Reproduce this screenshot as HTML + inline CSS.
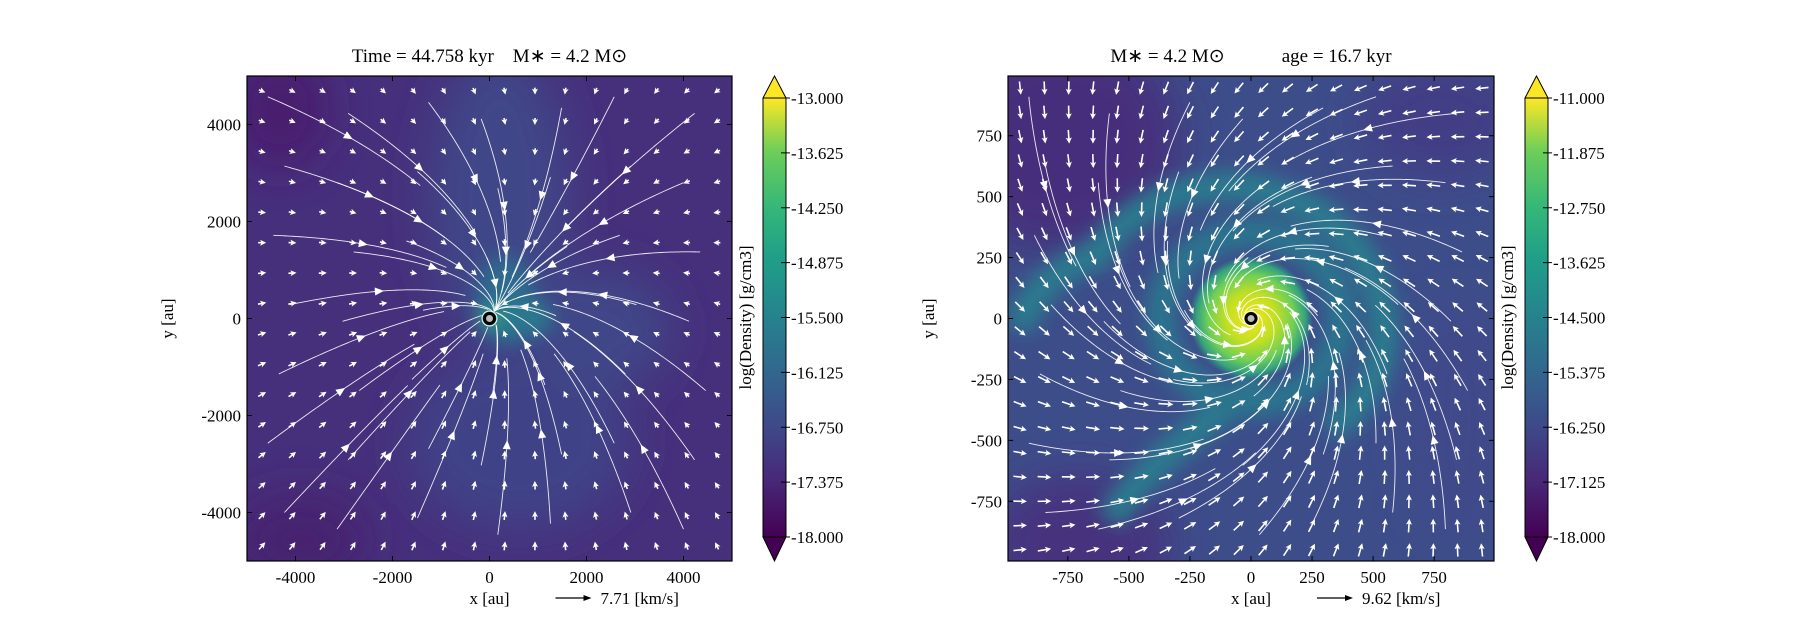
<!DOCTYPE html>
<html><head><meta charset="utf-8"><style>
html,body{margin:0;padding:0;background:#fff;}
body{width:1800px;height:630px;overflow:hidden;font-family:"Liberation Serif",serif;}
svg text{font-family:"Liberation Serif",serif;fill:#000;white-space:pre;}
</style></head><body>
<svg id="fig" width="1800" height="630" viewBox="0 0 1800 630" xmlns="http://www.w3.org/2000/svg">
<defs>
<linearGradient id="viridis" x1="0" y1="1" x2="0" y2="0">
<stop offset="0" stop-color="#440154"/><stop offset="0.13" stop-color="#482878"/><stop offset="0.25" stop-color="#3e4989"/><stop offset="0.38" stop-color="#31688e"/><stop offset="0.5" stop-color="#26828e"/><stop offset="0.63" stop-color="#1f9e89"/><stop offset="0.75" stop-color="#35b779"/><stop offset="0.88" stop-color="#6ece58"/><stop offset="1" stop-color="#fde725"/>
</linearGradient>
<filter id="blur1" x="-50%" y="-50%" width="200%" height="200%"><feGaussianBlur stdDeviation="22"/></filter>
<filter id="blur2" x="-50%" y="-50%" width="200%" height="200%"><feGaussianBlur stdDeviation="9"/></filter>
<radialGradient id="core"><stop offset="0" stop-color="#f0e51c"/><stop offset="0.4" stop-color="#c2df23"/><stop offset="0.7" stop-color="#6ece58"/><stop offset="0.88" stop-color="#35b779" stop-opacity="0.8"/><stop offset="1" stop-color="#22a884" stop-opacity="0"/></radialGradient>
<clipPath id="clipL"><rect x="247" y="76" width="485" height="485"/></clipPath>
<clipPath id="clipR"><rect x="1008" y="76" width="486" height="485"/></clipPath>
</defs>

<g id="bgL" clip-path="url(#clipL)">
<rect x="247" y="76" width="485" height="485" fill="#46307c"/>
<g filter="url(#blur1)">
<ellipse cx="500" cy="200" rx="70" ry="150" fill="#3f4788"/>
<ellipse cx="520" cy="440" rx="110" ry="90" fill="#404387"/>
<ellipse cx="600" cy="330" rx="70" ry="60" fill="#3f4788"/>
<ellipse cx="280" cy="110" rx="50" ry="60" fill="#481c6e"/>
<ellipse cx="300" cy="540" rx="70" ry="50" fill="#47216f"/>
</g>
<g filter="url(#blur2)">
<ellipse cx="505" cy="300" rx="30" ry="45" fill="#2f6b8e"/>
<ellipse cx="525" cy="318" rx="28" ry="20" fill="#2a788e"/>
<ellipse cx="490" cy="318" rx="10" ry="8" fill="#35b779"/>
</g>
</g>

<g id="bgR" clip-path="url(#clipR)">
<rect x="1008" y="76" width="486" height="485" fill="#3d4d8a"/>
<g filter="url(#blur1)">
<ellipse cx="1060" cy="140" rx="120" ry="110" fill="#472d7b"/>
<ellipse cx="1080" cy="545" rx="90" ry="70" fill="#46307e"/>
<ellipse cx="1440" cy="120" rx="80" ry="60" fill="#433e85"/>
<ellipse cx="1460" cy="420" rx="50" ry="120" fill="#3f4a8a"/>
</g>
<g filter="url(#blur2)" fill="none" stroke="#2a7a8e" stroke-width="30">
<path d="M1100 250 C1150 180 1260 160 1340 230 C1400 290 1400 380 1330 430"/>
<path d="M1110 250 C1080 260 1030 280 1020 330"/>
<path d="M1260 380 C1200 430 1150 460 1110 520"/>
<ellipse cx="1251" cy="318" rx="90" ry="85" stroke="#2b758e"/>
</g>
<circle cx="1251" cy="318" r="62" fill="url(#core)"/>
</g>

<g id="flowL" clip-path="url(#clipL)"></g>
<g id="flowR" clip-path="url(#clipR)"></g>

<g id="axes"></g>
</svg>
<script>
const NS='http://www.w3.org/2000/svg';
const leftXTicks=[-4000,-2000,0,2000,4000];
const leftYTicks=[4000,2000,0,-2000,-4000];
const rightXTicks=[-750,-500,-250,0,250,500,750];
const rightYTicks=[750,500,250,0,-250,-500,-750];
const leftCbTicks=[-13.000,-13.625,-14.250,-14.875,-15.500,-16.125,-16.750,-17.375,-18.000];
const rightCbTicks=[-11.000,-11.875,-12.750,-13.625,-14.500,-15.375,-16.250,-17.125,-18.000];
const leftRange=[-5000,5000];
const rightRange=[-995,995];
const leftCbRange=[-18,-13];
const rightCbRange=[-18,-11];

function el(tag,attrs,parent,txt){const e=document.createElementNS(NS,tag);for(const k in attrs)e.setAttribute(k,attrs[k]);if(txt!==undefined)e.textContent=txt;parent.appendChild(e);return e;}
const axes=document.getElementById('axes');

function panel(name,box,range,xt,yt,cb,cbTicks,cbRange,title,keyText){
  const [x0,y0,w,h]=box;
  const sx=v=>x0+(v-range[0])/(range[1]-range[0])*w;
  const sy=v=>y0+h-(v-range[0])/(range[1]-range[0])*h;
  const g=el('g',{},axes);
  
  
  const fr=el('rect',{x:x0,y:y0,width:w,height:h,fill:'none',stroke:'#000','stroke-width':1.2},g);
  
  
  xt.forEach(v=>{const X=sx(v);
    el('line',{x1:X,y1:y0+h,x2:X,y2:y0+h-5,stroke:'#000'},g);
    el('line',{x1:X,y1:y0,x2:X,y2:y0+5,stroke:'#000'},g);
    const t=el('text',{x:X,y:y0+h+22,'text-anchor':'middle','font-size':17},g,String(v));
    
    });
  yt.forEach(v=>{const Y=sy(v);
    el('line',{x1:x0,y1:Y,x2:x0+5,y2:Y,stroke:'#000'},g);
    el('line',{x1:x0+w,y1:Y,x2:x0+w-5,y2:Y,stroke:'#000'},g);
    const t=el('text',{x:x0-6,y:Y+6,'text-anchor':'end','font-size':17},g,String(v));
    
    });
  const tt=el('text',{x:x0+w/2,y:62,'text-anchor':'middle','font-size':19},g,title);
  
  
  const xl=el('text',{x:x0+w/2,y:604,'text-anchor':'middle','font-size':17},g,'x [au]');
  
  
  const ax=x0+w/2+66;
  el('line',{x1:ax,y1:598,x2:ax+30,y2:598,stroke:'#000','stroke-width':1.2},g);
  el('polygon',{points:`${ax+36},598 ${ax+28},595 ${ax+28},601`,fill:'#000'},g);
  const kt=el('text',{x:ax+45,y:604,'font-size':17},g,keyText);
  
  
  const yl=el('text',{transform:`translate(${x0-74},${y0+h/2}) rotate(-90)`,'text-anchor':'middle','font-size':17},g,'y [au]');
  
  
  const [cx,cw,ct,cbot,tip0,tip1]=cb;
  const cg=el('g',{},g);
  
  
  el('rect',{x:cx,y:ct,width:cw,height:cbot-ct,fill:'url(#viridis)'},cg);
  el('polygon',{points:`${cx},${ct} ${cx+cw/2},${tip0} ${cx+cw},${ct}`,fill:'#fde725',stroke:'#000','stroke-width':1},cg);
  el('polygon',{points:`${cx},${cbot} ${cx+cw/2},${tip1} ${cx+cw},${cbot}`,fill:'#440154',stroke:'#000','stroke-width':1},cg);
  el('rect',{x:cx,y:ct,width:cw,height:cbot-ct,fill:'none',stroke:'#000','stroke-width':1},cg);
  const cy=v=>cbot-(v-cbRange[0])/(cbRange[1]-cbRange[0])*(cbot-ct);
  cbTicks.forEach(v=>{const Y=cy(v);
    el('line',{x1:cx+cw-5,y1:Y,x2:cx+cw+4,y2:Y,stroke:'#000'},cg);
    const t=el('text',{x:cx+cw+5,y:Y+6,'font-size':17},cg,v.toFixed(3));
    
    });
  const cl=el('text',{transform:`translate(${cx-12},${(ct+cbot)/2}) rotate(-90)`,'text-anchor':'middle','font-size':17},cg,'log(Density) [g/cm3]');
  
  
  const st=el('circle',{cx:sx(0),cy:sy(0),r:5,fill:'#bbb',stroke:'#000','stroke-width':3},g);
  
  
  el('circle',{cx:sx(0),cy:sy(0),r:7.5,fill:'none',stroke:'#fff','stroke-width':1},g);
  return {sx,sy};
}

panel('left',[247,76,485,485],leftRange,leftXTicks,leftYTicks,[763,23,98,537,76,561],leftCbTicks,leftCbRange,'Time = 44.758 kyr    M\u2217 = 4.2 M\u2299','7.71 [km/s]');
panel('right',[1008,76,486,485],rightRange,rightXTicks,rightYTicks,[1525,23,98,537,76,561],rightCbTicks,rightCbRange,'M\u2217 = 4.2 M\u2299            age = 16.7 kyr','9.62 [km/s]');

function fieldL(u,v){
  const r=Math.hypot(u,v)+0.05;
  let vx=-0.4*u/r+0.08, vy=-0.4*v/r+0.12;
  return [vx,vy];
}
function fieldR(u,v){
  const r=Math.hypot(u,v)+0.05;
  const rot=0.5*Math.exp(-r*1.5)+0.3, inf=0.45;
  return [-inf*u/r - rot*v/r, -inf*v/r + rot*u/r];
}
function drawFlow(gid,box,field,n,scale,qname,maxLen){
  const g=document.getElementById(gid);
  const [x0,y0,w,h]=box;
  const qg=el('g',{fill:'#fff'},g);
  
  
  const step=w/n;
  for(let i=0;i<n;i++)for(let j=0;j<n;j++){
    const px=x0+step*(i+0.5), py=y0+step*(j+0.5);
    const u=(px-x0)/w*2-1, v=1-(py-y0)/h*2;
    let [vx,vy]=field(u,v);
    const m=Math.hypot(vx,vy), len=Math.min(maxLen,Math.max(7,m*scale));
    const a=Math.atan2(-vy,vx);
    el('polygon',{points:`0,-0.8 ${len-5},-0.8 ${len-6},-3 ${len},0 ${len-6},3 ${len-5},0.8 0,0.8`,transform:`translate(${px-Math.cos(a)*len/2},${py-Math.sin(a)*len/2}) rotate(${a*180/Math.PI})`},qg);
  }
  const sg=el('g',{},g);
  
  
  const ns=7;
  for(let i=0;i<ns;i++)for(let j=0;j<ns;j++){
    let px=x0+w*(i+0.3+0.4*((i*7+j*3)%5)/5)/ns, py=y0+h*(j+0.3+0.4*((i*3+j*5)%5)/5)/ns;
    const pts=[];
    for(let k=0;k<60;k++){
      pts.push([px,py]);
      const u=(px-x0)/w*2-1, v=1-(py-y0)/h*2;
      const [vx,vy]=field(u,v); const m=Math.hypot(vx,vy)||1;
      px+=vx/m*3; py-=vy/m*3;
      if(px<x0||px>x0+w||py<y0||py>y0+h)break;
      if(Math.hypot(px-x0-w/2,py-y0-h/2)<8)break;
    }
    if(pts.length<5)continue;
    el('polyline',{points:pts.map(p=>p.join(',')).join(' '),fill:'none',stroke:'#fff','stroke-width':0.9,'stroke-opacity':0.9},sg);
    const m=pts[Math.floor(pts.length/2)], m2=pts[Math.floor(pts.length/2)+1];
    const a=Math.atan2(m2[1]-m[1],m2[0]-m[0])*180/Math.PI;
    el('polygon',{points:'5,0 -4,-4 -4,4',fill:'#fff',transform:`translate(${m[0]},${m[1]}) rotate(${a})`},sg);
  }
}
drawFlow('flowL',[247,76,485,485],fieldL,16,18,'left',10);
drawFlow('flowR',[1008,76,486,485],fieldR,20,24,'right',18);
</script>
</body></html>
